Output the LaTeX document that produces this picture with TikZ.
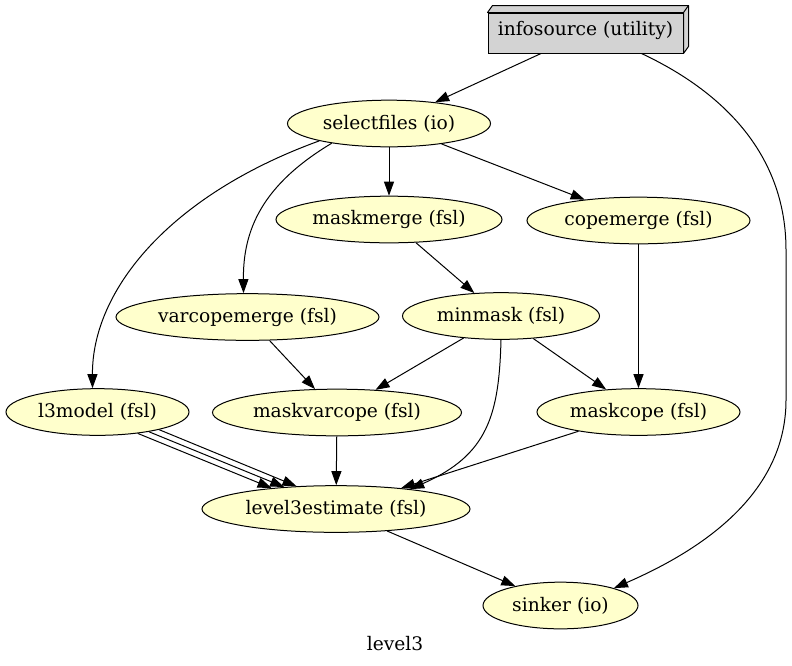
\documentclass[tikz,border=0pt]{standalone}
\usepackage{fontspec}
\setmainfont{DejaVu Serif}
\usetikzlibrary{arrows.meta,shapes.geometric,calc}
\definecolor{nodefill}{HTML}{FFFFCC}
\definecolor{boxfill}{HTML}{D3D3D3}
\begin{document}
\begin{tikzpicture}[x=0.75pt,y=-0.75pt,
  font=\fontsize{14}{17}\selectfont,
  proc/.style={ellipse, draw, line width=0.75pt, fill=nodefill, inner sep=0pt, minimum height=35pt},
  utilbox/.style={rectangle, draw, line width=0.75pt, fill=boxfill, inner sep=0pt, minimum width=146.25pt, minimum height=30pt},
  edge/.style={draw, line width=0.75pt, -{Triangle[length=10.5pt,width=7.5pt]}}]
\useasboundingbox (0,0) rectangle (792,665);

% utility box (3D)
\node[utilbox] (infosource) at (585.5,33) {\raisebox{-2.2pt}[0pt][0pt]{infosource (utility)}};
\filldraw[line width=0.75pt, fill=boxfill, line join=round]
  (infosource.north west) -- ([shift={(5,-7)}]infosource.north west)
  -- ([shift={(5,-7)}]infosource.north east) -- ([shift={(5,-7)}]infosource.south east)
  -- (infosource.south east) -- (infosource.north east) -- cycle;
\draw[line width=0.75pt] (infosource.north east) -- ([shift={(5,-7)}]infosource.north east);

% process nodes
\node[proc, minimum width=152.25pt] (selectfiles) at (389,123.5) {selectfiles (io)};
\node[proc, minimum width=169.5pt] (maskmerge) at (389,219.5) {maskmerge (fsl)};
\node[proc, minimum width=167.25pt] (copemerge) at (638.5,220.5) {copemerge (fsl)};
\node[proc, minimum width=197.25pt] (varcopemerge) at (247.5,317) {varcopemerge (fsl)};
\node[proc, minimum width=147.75pt] (minmask) at (501,316) {minmask (fsl)};
\node[proc, minimum width=137.25pt] (l3model) at (97.5,412) {l3model (fsl)};
\node[proc, minimum width=186.75pt] (maskvarcope) at (337,412.5) {maskvarcope (fsl)};
\node[proc, minimum width=152.25pt] (maskcope) at (638.5,412) {maskcope (fsl)};
\node[proc, minimum width=201pt] (level3estimate) at (336,509) {level3estimate (fsl)};
\node[proc, minimum width=116.25pt] (sinker) at (560.5,605.5) {sinker (io)};

\node (title) at (395,644) {level3};

% edges
\draw[edge] (infosource) -- (selectfiles);
\draw[edge] ([shift={(56,0)}]infosource.south) .. controls (730,95) and (786,160) .. (786,250)
  -- (786,400) .. controls (786,500) and (690,555) .. (sinker.18);
\draw[edge] (selectfiles) -- (maskmerge);
\draw[edge] (selectfiles) -- (copemerge);
\draw[edge] (selectfiles.-161) .. controls (262,185) and (243,230) .. ([shift={(-4,0)}]varcopemerge.north);
\draw[edge] (selectfiles.-166) .. controls (170,195) and (92,290) .. ([shift={(-5,0)}]l3model.north);
\draw[edge] (maskmerge) -- (minmask);
\draw[edge] (copemerge) -- (maskcope);
\draw[edge] (varcopemerge) -- (maskvarcope);
\draw[edge] (minmask) -- (maskvarcope);
\draw[edge] (minmask) -- (maskcope);
\draw[edge] (minmask.south) .. controls (499,415) and (488,455) .. (level3estimate.15);
\draw[edge] (maskvarcope) -- (level3estimate);
\draw[edge] (maskcope) -- (level3estimate);
\draw[edge] (l3model.-28) -- (level3estimate.162.4);
\draw[edge] (l3model.-21) -- (level3estimate.157.5);
\draw[edge] (l3model.-16) -- (level3estimate.150.2);
\draw[edge] (level3estimate) -- (sinker);
\end{tikzpicture}
\end{document}
